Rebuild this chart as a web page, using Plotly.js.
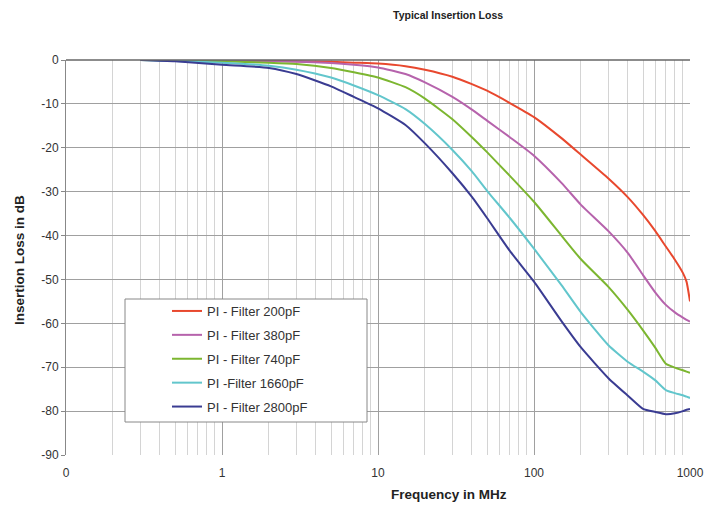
<!DOCTYPE html>
<html>
<head>
<meta charset="utf-8">
<script src="https://cdn.plot.ly/plotly-3.0.1.min.js"></script>
<style>html,body{margin:0;padding:0;background:#fff;}#chart{width:707px;height:510px;}</style>
</head>
<body>
<div id="chart"></div>
<script>
// Frequency points (MHz)
const freqMHz = [0.3, 0.5, 1, 2, 3, 5, 7, 10, 15, 20, 30, 40, 50, 70, 100, 150, 200, 300, 400, 500, 600, 700, 800, 900, 950, 1000];

// Insertion loss (dB) per filter
const loss200pF  = [0, 0, -0.1, -0.2, -0.3, -0.4, -0.6, -0.8, -1.4, -2.2, -3.8, -5.5, -7, -9.8, -13, -17.8, -21.6, -27, -31.3, -35.3, -39, -42.5, -45.5, -48.5, -50.5, -55];
const loss380pF  = [0, 0, -0.2, -0.3, -0.4, -0.7, -1.1, -1.7, -3.2, -5.1, -8.4, -11.3, -13.8, -17.6, -21.8, -28, -33, -39, -44, -49, -53, -55.8, -57.5, -58.7, -59.2, -59.6];
const loss740pF  = [0, -0.1, -0.3, -0.6, -0.9, -1.8, -2.8, -4, -6.2, -8.8, -13.5, -17.6, -21, -26.4, -32.3, -40, -45.4, -51.7, -57, -61.6, -65.6, -69.2, -70.1, -70.7, -71, -71.3];
const loss1660pF = [0, -0.2, -0.6, -1.3, -2.2, -4, -5.8, -8, -11.2, -14.6, -20.5, -25.4, -29.8, -36, -43, -51.3, -57.5, -65, -68.8, -71, -73, -75.2, -75.9, -76.4, -76.7, -77];
const loss2800pF = [0, -0.3, -1.1, -1.8, -3.2, -6, -8.4, -11, -14.8, -19, -25.8, -31.2, -36, -43.5, -50.5, -59.5, -65.5, -72.5, -76.5, -79.5, -80.2, -80.7, -80.5, -80, -79.7, -79.5];

const seriesNames = ["PI - Filter 200pF", "PI - Filter 380pF", "PI - Filter 740pF", "PI -Filter 1660pF", "PI - Filter 2800pF"];
const seriesColors = ["#e8482e", "#b663ac", "#7cb630", "#62c6cc", "#3a3c92"];
const seriesValues = [loss200pF, loss380pF, loss740pF, loss1660pF, loss2800pF];

const xTickVals = [0.1, 1, 10, 100, 1000];
const xTickText = ["0", "1", "10", "100", "1000"];
const yTickVals = [0, -10, -20, -30, -40, -50, -60, -70, -80, -90];
const yTickText = ["0", "-10", "-20", "-30", "-40", "-50", "-60", "-70", "-80", "-90"];

const traces = seriesValues.map((vals, i) => ({
  x: freqMHz,
  y: vals,
  type: 'scatter',
  mode: 'lines',
  name: seriesNames[i],
  legendgroup: 'g' + i,
  line: {color: seriesColors[i], width: 2, shape: 'spline', smoothing: 0.5}
}));

const W = 707, H = 510;
const mL = 66, mR = 17, mT = 60, mB = 55;
const pw = W - mL - mR, ph = H - mT - mB;
const px = v => (v - mL) / pw;
const py = v => (H - mB - v) / ph;

const layout = {
  width: W, height: H,
  margin: {l: mL, r: mR, t: mT, b: mB, pad: 0},
  paper_bgcolor: '#fff', plot_bgcolor: '#fff',
  font: {family: 'Liberation Sans, Arial, sans-serif', color: '#333'},
  showlegend: true,
  legend: {
    x: px(167), y: py(296), xanchor: 'left', yanchor: 'top',
    bgcolor: 'rgba(0,0,0,0)', borderwidth: 0,
    font: {size: 13, color: '#333'},
    tracegroupgap: 4, itemwidth: 30
  },
  xaxis: {
    type: 'log', range: [-1, 3],
    tickvals: xTickVals, ticktext: xTickText,
    showgrid: true, gridcolor: '#a0a0a0', gridwidth: 1,
    minor: {dtick: 'D1', showgrid: true, gridcolor: '#d4d4d4', gridwidth: 1, ticks: ''},
    showline: false, zeroline: false, ticks: '',
    ticklabelstandoff: 9,
    tickfont: {size: 12, color: '#333'}
  },
  yaxis: {
    range: [-90, 0], tickvals: yTickVals, ticktext: yTickText,
    showgrid: true, gridcolor: '#a0a0a0', gridwidth: 1,
    showline: true, linecolor: '#888', linewidth: 1,
    ticks: 'outside', ticklen: 4, tickcolor: '#888',
    zeroline: false,
    tickfont: {size: 12, color: '#333'}
  },
  shapes: [
    {type: 'line', xref: 'paper', yref: 'paper', x0: 0, x1: 1, y0: 1, y1: 1, line: {color: '#666', width: 1.5}},
    {type: 'rect', xref: 'paper', yref: 'paper', x0: px(125), x1: px(367), y0: py(422), y1: py(299),
     fillcolor: '#fff', line: {color: '#888', width: 1}, layer: 'above'}
  ],
  annotations: [
    {text: '<b>Typical Insertion Loss</b>', xref: 'paper', yref: 'paper', x: px(448), y: py(15),
     xanchor: 'center', yanchor: 'middle', showarrow: false, font: {size: 10.5, color: '#222'}},
    {text: '<b>Frequency in MHz</b>', xref: 'paper', yref: 'paper', x: px(449), y: py(494),
     xanchor: 'center', yanchor: 'middle', showarrow: false, font: {size: 13.5, color: '#222'}},
    {text: '<b>Insertion Loss in dB</b>', xref: 'paper', yref: 'paper', x: px(19), y: py(260),
     xanchor: 'center', yanchor: 'middle', showarrow: false, textangle: -90, font: {size: 13.5, color: '#222'}}
  ]
};

Plotly.newPlot('chart', traces, layout, {displayModeBar: false, staticPlot: true});
</script>
</body>
</html>
